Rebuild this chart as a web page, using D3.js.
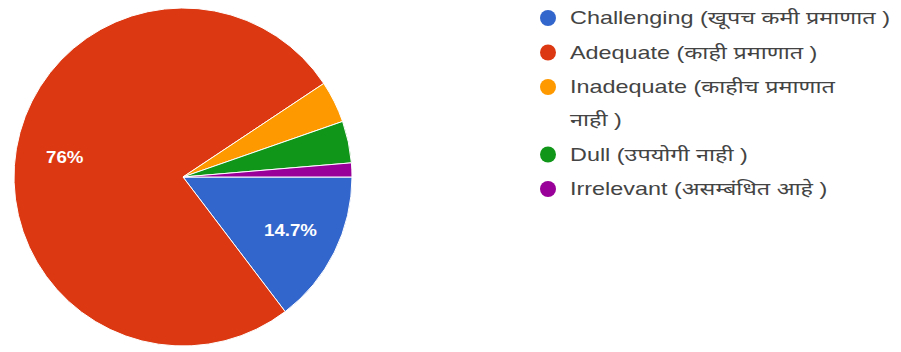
<!DOCTYPE html>
<html>
<head>
<meta charset="utf-8">
<script src="https://cdn.jsdelivr.net/npm/d3@7"></script>
<style>
  html, body { margin: 0; padding: 0; background: #fff; }
  svg { display: block; }
</style>
</head>
<body>
<svg id="chart" width="901" height="352"></svg>
<script>
const categories = [
  "Challenging (खूपच कमी प्रमाणात )",
  "Adequate (काही प्रमाणात )",
  "Inadequate (काहीच प्रमाणात\nनाही )",
  "Dull (उपयोगी नाही )",
  "Irrelevant (असम्बंधित आहे )"
];
const counts = [11, 57, 3, 3, 1];
const sliceLabels = ["14.7%", "76%", "", "", ""];
const colors = ["#3366cc", "#dc3912", "#ff9900", "#109618", "#990099"];

const svg = d3.select("#chart");
const cx = 183, cy = 177, r = 169;
const font = "'Liberation Sans', Arial, 'Noto Sans', 'Noto Sans Devanagari', sans-serif";

const pie = d3.pie().sort(null).value(d => d)
  .startAngle(Math.PI / 2).endAngle(Math.PI / 2 + 2 * Math.PI);
const arcs = pie(counts);
const arc = d3.arc().innerRadius(0).outerRadius(r);
const labelArc = d3.arc().innerRadius(r * 0.71).outerRadius(r * 0.71);

const g = svg.append("g").attr("transform", `translate(${cx},${cy})`);
g.selectAll("path").data(arcs).enter().append("path")
  .attr("d", arc)
  .attr("fill", (d, i) => colors[i])
  .attr("stroke", "#fff")
  .attr("stroke-width", 1);

g.selectAll("text").data(arcs).enter().append("text")
  .attr("transform", d => {
    const [x, y] = labelArc.centroid(d);
    return `translate(${x},${y}) scale(1.1,1)`;
  })
  .attr("text-anchor", "middle")
  .attr("dy", "0.35em")
  .attr("fill", "#fff")
  .attr("font-family", font)
  .attr("font-size", 17)
  .attr("font-weight", "bold")
  .text((d, i) => sliceLabels[i]);

// Legend
const legend = svg.append("g");
const lx = 548, textX = 570, lineH = 33, rowGap = 34.5;
let y = 18;
categories.forEach((c, i) => {
  const row = legend.append("g");
  row.append("circle").attr("cx", lx).attr("cy", y).attr("r", 8).attr("fill", colors[i]);
  const t = row.append("text")
    .attr("transform", `translate(${textX},${y}) scale(1.3,1)`)
    .attr("font-family", font).attr("font-size", 18).attr("fill", "#444");
  const lines = c.split("\n");
  lines.forEach((ln, k) => {
    t.append("tspan").attr("x", 0).attr("y", k * lineH).attr("dy", "0.35em").text(ln);
  });
  y += (lines.length - 1) * lineH + rowGap;
});
</script>
</body>
</html>
